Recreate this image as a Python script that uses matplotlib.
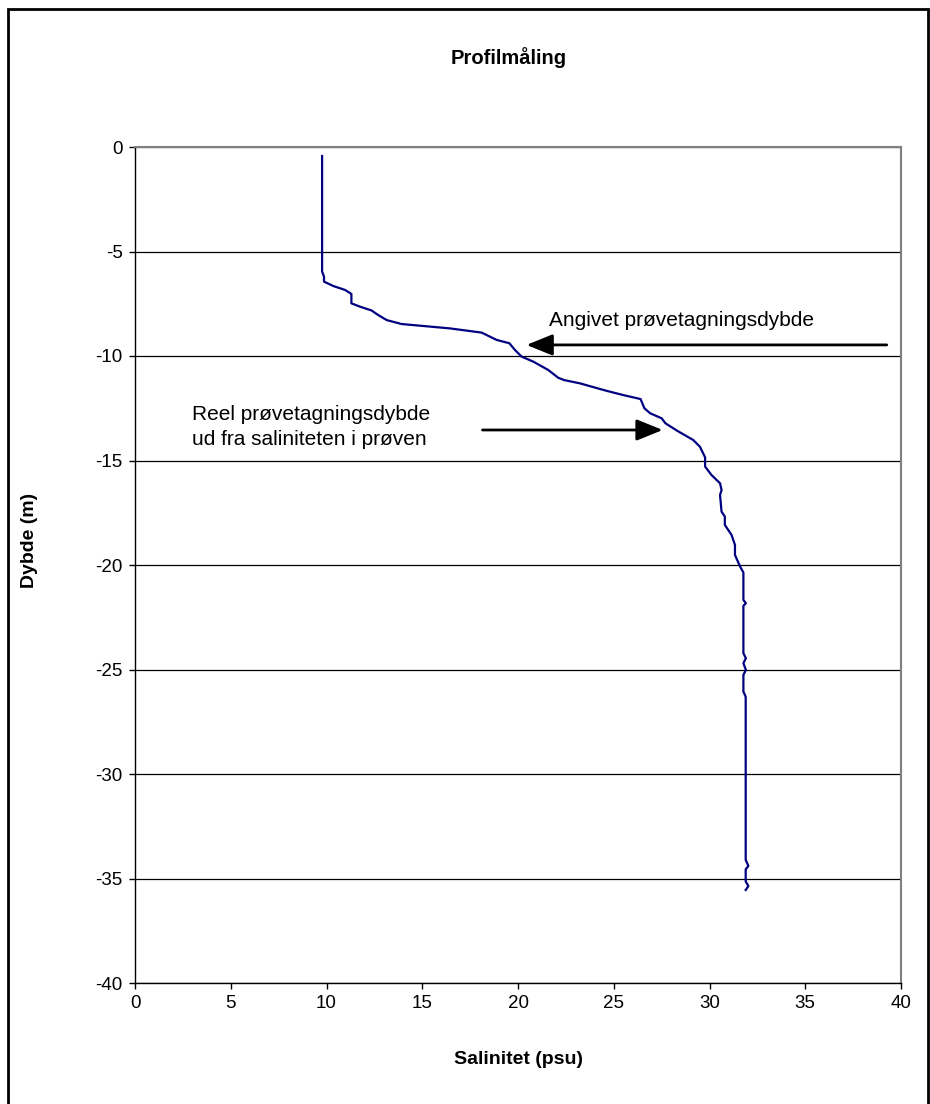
import matplotlib
matplotlib.use('Agg')
from matplotlib import pyplot as plt
from matplotlib.patches import Rectangle

plt.rcParams['font.family'] = ['Liberation Sans', 'DejaVu Sans']
plt.rcParams['axes.unicode_minus'] = False

# profile
salinitet = [9.77, 9.77, 9.87, 9.87, 10.35, 10.97, 11.3, 11.3, 11.75, 12.35, 12.7, 13.14,
             13.92, 16.45, 18.1, 18.88, 19.55, 19.84, 20.19, 20.8, 21.58, 22.1, 22.4, 23.24,
             24.6, 25.5, 26.4, 26.6, 26.9, 27.5, 27.7, 28.3, 29.15, 29.5, 29.77, 29.77,
             30.1, 30.55, 30.63, 30.55, 30.63, 30.8, 30.8, 31.15, 31.33, 31.33, 31.6, 31.77,
             31.77, 31.9, 31.77, 31.77, 31.9, 31.77, 31.9, 31.77, 31.77, 31.89, 31.89, 32.03,
             31.89, 31.89, 32.03, 31.89]
dybde = [-0.43, -5.96, -6.2, -6.44, -6.65, -6.84, -7.03, -7.48, -7.64, -7.82, -8.04, -8.28,
         -8.47, -8.68, -8.88, -9.23, -9.39, -9.71, -10.03, -10.27, -10.67, -11.04, -11.15, -11.31,
         -11.66, -11.87, -12.06, -12.5, -12.74, -12.98, -13.22, -13.57, -14.02, -14.34, -14.85, -15.29,
         -15.69, -16.09, -16.41, -16.65, -17.45, -17.68, -18.08, -18.56, -19.04, -19.52, -20.08, -20.36,
         -21.67, -21.83, -21.95, -24.22, -24.46, -24.7, -25.02, -25.26, -26.06, -26.3, -34.11, -34.4,
         -34.56, -35.14, -35.36, -35.55]

x_ticks = [0, 5, 10, 15, 20, 25, 30, 35, 40]
y_ticks = [0, -5, -10, -15, -20, -25, -30, -35, -40]

fig = plt.figure(figsize=(9.3, 11.04), dpi=100)
ax = fig.add_axes([135/930, 1-983/1104, 766/930, 836/1104])

ax.plot(salinitet, dybde, color='#000080', lw=1.6, zorder=3)

ax.set_xlim(0, 40)
ax.set_ylim(-40, 0)
ax.set_xticks(x_ticks)
ax.set_yticks(y_ticks)
ax.yaxis.grid(True, color='black', lw=0.9)
ax.tick_params(direction='out', length=4, width=1, labelsize=13.5, pad=5)
for s in ['top', 'right']:
    ax.spines[s].set_color('#808080')
    ax.spines[s].set_linewidth(1.5)
for s in ['left', 'bottom']:
    ax.spines[s].set_color('black')
    ax.spines[s].set_linewidth(1)

# arrows and texts
pil = dict(arrowstyle='-|>,head_length=1.6,head_width=0.65', color='black', lw=2)
ax.annotate('', xy=(20.3, -9.47), xytext=(39.4, -9.47), arrowprops=pil)
ax.text(21.6, -8.28, 'Angivet prøvetagningsdybde', fontsize=15, va='center', ha='left')
ax.annotate('', xy=(27.7, -13.54), xytext=(18.0, -13.54), arrowprops=pil)
ax.text(3.0, -13.4, 'Reel prøvetagningsdybde\nud fra saliniteten i prøven', fontsize=15,
        va='center', ha='left', linespacing=1.45)

fig.text(0.547, 1-58/1104, 'Profilmåling', fontsize=14.5, fontweight='bold', ha='center', va='center')
fig.text(0.557, 1-1060/1104, 'Salinitet (psu)', fontsize=14, fontweight='bold', ha='center', va='center')
fig.text(30/930, 1-540/1104, 'Dybde (m)', fontsize=14, fontweight='bold', ha='center', va='center',
         rotation=90)

fig.patches.append(Rectangle((8/930, -0.01), 920/930, 1.01-9/1104, transform=fig.transFigure,
                             fill=False, edgecolor='black', lw=2))

fig.savefig('out.png', dpi=100)
